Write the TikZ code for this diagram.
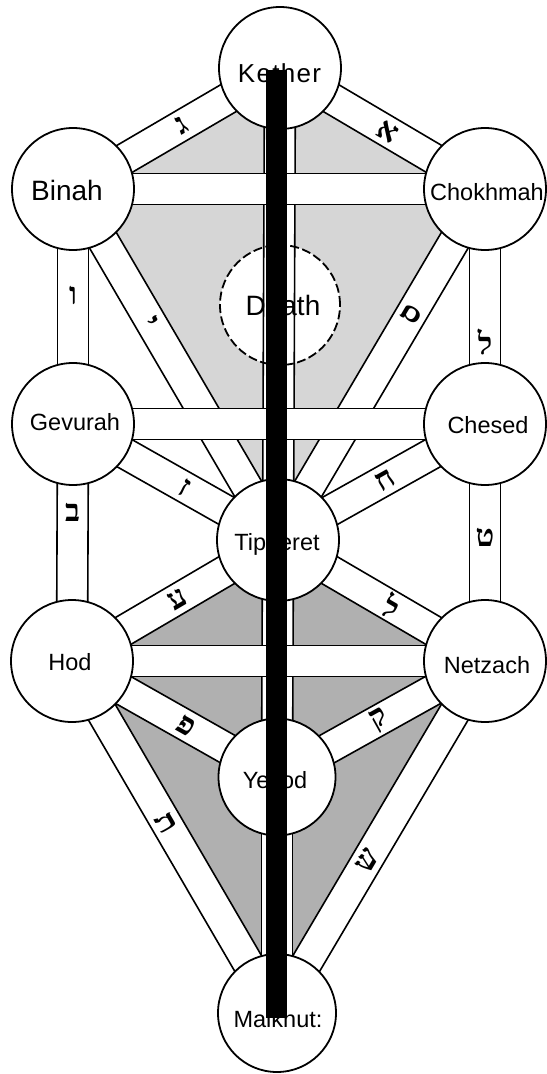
\documentclass[tikz,border=0pt]{standalone}
\usepackage{fontspec}
\setmainfont{Liberation Sans}
\newfontfamily\hebfont[Script=Hebrew]{Liberation Serif}
\usetikzlibrary{calc}
\pgfdeclarelayer{paper}
\pgfdeclarelayer{shade}
\pgfdeclarelayer{diag}
\pgfdeclarelayer{horiz}
\pgfdeclarelayer{front}
\pgfsetlayers{paper,shade,diag,horiz,main,front}
\newcommand\tolband[2]{\path[bandline] ($(#1.center)!15.5pt!90:(#2.center)$) -- ($(#2.center)!15.5pt!-90:(#1.center)$) -- ($(#2.center)!15.5pt!90:(#1.center)$) -- ($(#1.center)!15.5pt!-90:(#2.center)$) -- cycle;}
\begin{document}
\begin{tikzpicture}[x=1pt,y=-1pt,
  sefira/.style={circle,draw=black,line width=1.8pt,fill=white,minimum size=122pt,inner sep=0pt},
  bandline/.style={draw=black,line width=1.6pt,fill=white,line join=miter},
  lbl/.style={inner sep=0pt,anchor=base,font=\fontsize{23.5pt}{28pt}\selectfont},
  heb/.style={inner sep=0pt,font=\hebfont\bfseries\fontsize{31pt}{34pt}\selectfont},
]
\begin{pgfonlayer}{paper}
\useasboundingbox[fill=white] (0,0) rectangle (544,1074);
\end{pgfonlayer}

% sefirot
\node[sefira] (kether) at (280,68) {};
\node[sefira] (binah) at (73,189) {};
\node[sefira] (chokhmah) at (485,189) {};
\node[sefira,fill=none,dash pattern=on 9pt off 3.5pt,minimum size=120pt] (daath) at (280,305) {};
\node[sefira] (gevurah) at (73,424) {};
\node[sefira] (chesed) at (485,424) {};
\node[sefira] (tiph) at (278,540) {};
\node[sefira] (hod) at (72,661) {};
\node[sefira] (netzach) at (485,661) {};
\node[sefira,minimum size=117pt] (yesod) at (277,777) {};
\node[sefira,minimum size=118pt] (malkhut) at (277,1013) {};

% shading
\begin{pgfonlayer}{shade}
\fill[gray!32] (kether.center) -- (binah.center) -- (tiph.center) -- (chokhmah.center) -- cycle;
\fill[gray!62] (tiph.center) -- (netzach.center) -- (malkhut.center) -- (hod.center) -- cycle;
\fill[white] (daath.center) circle[radius=60pt];
\end{pgfonlayer}

% diagonal and vertical paths
\begin{pgfonlayer}{diag}
\tolband{kether}{binah}
\tolband{kether}{chokhmah}
\tolband{kether}{tiph}
\tolband{chokhmah}{tiph}
\tolband{chokhmah}{chesed}
\tolband{binah}{tiph}
\tolband{binah}{gevurah}
\tolband{chesed}{tiph}
\tolband{chesed}{netzach}
\tolband{gevurah}{tiph}
\tolband{gevurah}{hod}
\tolband{tiph}{netzach}
\tolband{tiph}{yesod}
\tolband{tiph}{hod}
\tolband{netzach}{yesod}
\tolband{netzach}{malkhut}
\tolband{hod}{yesod}
\tolband{hod}{malkhut}
\tolband{yesod}{malkhut}
\end{pgfonlayer}

% horizontal paths
\begin{pgfonlayer}{horiz}
\tolband{binah}{chokhmah}
\tolband{gevurah}{chesed}
\tolband{hod}{netzach}
\end{pgfonlayer}

% letters
\path (binah.center) -- (kether.center) node[heb,sloped,pos=0.525] (lKB) {ג};
\path (kether.center) -- (chokhmah.center) node[heb,sloped,pos=0.527] (lKC) {א};
\path (binah.center) -- (gevurah.center) node[heb,pos=0.455] (lBG) {ו};
\path (binah.center) -- (tiph.center) node[heb,sloped,pos=0.38] (lBT) {י};
\path (chokhmah.center) -- (tiph.center) node[heb,sloped,pos=0.357] (lCT) {ס};
\path (chokhmah.center) -- (chesed.center) node[heb,pos=0.65] (lCC) {ל};
\path (gevurah.center) -- (tiph.center) node[heb,sloped,pos=0.546] (lGT) {ז};
\path (chesed.center) -- (tiph.center) node[heb,sloped,pos=0.483] (lHT) {ח};
\path (gevurah.center) -- (hod.center) node[heb,pos=0.372] (lGH) {ב};
\path (chesed.center) -- (netzach.center) node[heb,pos=0.48] (lCN) {ט};
\path (tiph.center) -- (hod.center) node[heb,sloped,pos=0.49] (lTH) {ע};
\path (tiph.center) -- (netzach.center) node[heb,sloped,pos=0.55] (lTN) {ל};
\path (tiph.center) -- (yesod.center) node[heb,pos=0.34] (lTY) {ס};
\path (hod.center) -- (yesod.center) node[heb,sloped,pos=0.556] (lHY) {פ};
\path (netzach.center) -- (yesod.center) node[heb,sloped,pos=0.505] (lNY) {ק};
\path (hod.center) -- (malkhut.center) node[heb,sloped,pos=0.46] (lHM) {ת};
\path (netzach.center) -- (malkhut.center) node[heb,sloped,pos=0.567] (lNM) {ש};

% labels
\node[lbl,font=\fontsize{26pt}{30pt}\selectfont\addfontfeature{LetterSpace=5}] (tKether) at (279.5,82) {Kether};
\node[lbl,font=\fontsize{28pt}{32pt}\selectfont] (tBinah) at (67,200) {Binah};
\node[lbl] (tChokhmah) at (487,200) {Chokhmah};
\node[lbl,font=\fontsize{28pt}{32pt}\selectfont] (tDaath) at (283,315) {Daath};
\node[lbl] (tGevurah) at (75,430) {Gevurah};
\node[lbl] (tChesed) at (488,433) {Chesed};
\node[lbl] (tTiph) at (277,550) {Tipheret};
\node[lbl] (tHod) at (70,670) {Hod};
\node[lbl] (tNetzach) at (487,673) {Netzach};
\node[lbl] (tYesod) at (275,788) {Yesod};
\node[lbl] (tMalkhut) at (278,1027) {Malkhut:};

% black bar
\begin{pgfonlayer}{front}
\fill[black] (266,70) rectangle (287,1018);
\end{pgfonlayer}
\end{tikzpicture}
\end{document}
